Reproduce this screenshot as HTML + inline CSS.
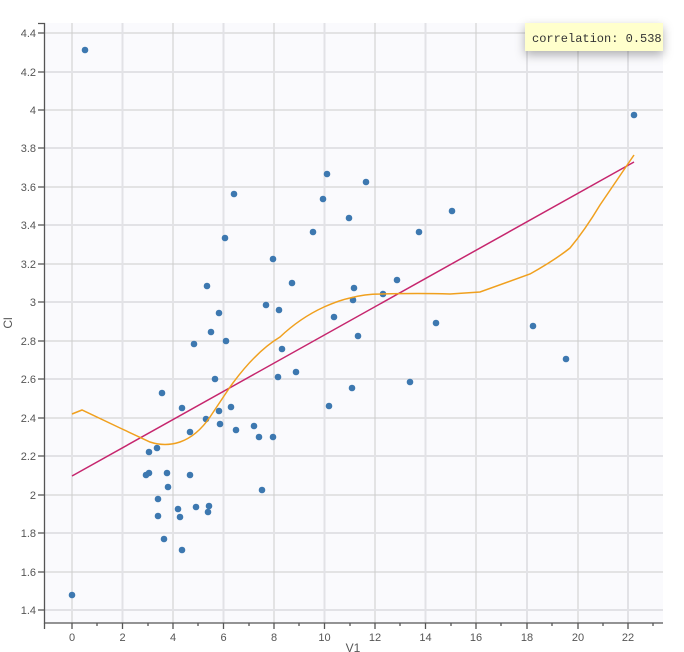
<!DOCTYPE html><html><head><style>body{margin:0;background:#fff;}svg{display:block}text{font-family:"Liberation Sans",sans-serif;font-size:11px;fill:#555}</style></head><body>
<svg width="684" height="652" xmlns="http://www.w3.org/2000/svg">
<rect x="44" y="23" width="619" height="600" fill="#fafafd"/>
<g stroke="#ccc" stroke-width="1">
<line x1="72" y1="23" x2="72" y2="623"/><line x1="173" y1="23" x2="173" y2="623"/><line x1="274" y1="23" x2="274" y2="623"/><line x1="375" y1="23" x2="375" y2="623"/><line x1="476" y1="23" x2="476" y2="623"/><line x1="578" y1="23" x2="578" y2="623"/>
<line x1="44" y1="33" x2="663" y2="33"/><line x1="44" y1="110" x2="663" y2="110"/><line x1="44" y1="187" x2="663" y2="187"/><line x1="44" y1="264" x2="663" y2="264"/><line x1="44" y1="341" x2="663" y2="341"/><line x1="44" y1="418" x2="663" y2="418"/><line x1="44" y1="495" x2="663" y2="495"/><line x1="44" y1="572" x2="663" y2="572"/>
</g>
<g stroke="#e2e2e6" stroke-width="2">
<line x1="122.5" y1="23" x2="122.5" y2="623"/><line x1="223.5" y1="23" x2="223.5" y2="623"/><line x1="324.5" y1="23" x2="324.5" y2="623"/><line x1="425.5" y1="23" x2="425.5" y2="623"/><line x1="527" y1="23" x2="527" y2="623"/><line x1="628" y1="23" x2="628" y2="623"/>
<line x1="44" y1="72" x2="663" y2="72"/><line x1="44" y1="148" x2="663" y2="148"/><line x1="44" y1="225" x2="663" y2="225"/><line x1="44" y1="302" x2="663" y2="302"/><line x1="44" y1="379" x2="663" y2="379"/><line x1="44" y1="456" x2="663" y2="456"/><line x1="44" y1="533" x2="663" y2="533"/><line x1="44" y1="610" x2="663" y2="610"/>
</g>
<g stroke="#555" stroke-width="1.3" fill="none">
<path d="M38 23.5H44.5V623H663"/>
<path d="M38 33H44M38 72H44M38 110H44M38 148H44M38 187H44M38 225H44M38 264H44M38 302H44M38 341H44M38 379H44M38 418H44M38 456H44M38 495H44M38 533H44M38 572H44M38 610H44"/>
<path d="M44.5 623v6M72 623v6M122.5 623v6M173 623v6M223.5 623v6M274 623v6M324.5 623v6M375 623v6M425.5 623v6M476 623v6M527 623v6M578 623v6M628 623v6M97 623v3M148 623v3M198 623v3M249 623v3M299 623v3M350 623v3M400 623v3M451 623v3M501 623v3M552 623v3M603 623v3M653 623v3"/>
</g>
<g text-anchor="end">
<text x="36" y="37">4.4</text><text x="36" y="76">4.2</text><text x="36" y="114">4</text><text x="36" y="152">3.8</text><text x="36" y="191">3.6</text><text x="36" y="229">3.4</text><text x="36" y="268">3.2</text><text x="36" y="306">3</text><text x="36" y="345">2.8</text><text x="36" y="383">2.6</text><text x="36" y="422">2.4</text><text x="36" y="460">2.2</text><text x="36" y="499">2</text><text x="36" y="537">1.8</text><text x="36" y="576">1.6</text><text x="36" y="614">1.4</text>
</g>
<g text-anchor="middle">
<text x="72" y="641">0</text><text x="122.5" y="641">2</text><text x="173" y="641">4</text><text x="223.5" y="641">6</text><text x="274" y="641">8</text><text x="324.5" y="641">10</text><text x="375" y="641">12</text><text x="425.5" y="641">14</text><text x="476" y="641">16</text><text x="527" y="641">18</text><text x="578" y="641">20</text><text x="628" y="641">22</text>
<text x="353" y="652" style="font-size:12px">V1</text>
<text x="12" y="323" style="font-size:12px" transform="rotate(-90 12 323)">Cl</text>
</g>
<g fill="#3d78b0">
<circle cx="85" cy="50" r="3.3"/><circle cx="72" cy="595" r="3.3"/><circle cx="634" cy="115" r="3.3"/><circle cx="327" cy="174" r="3.3"/><circle cx="366" cy="182" r="3.3"/><circle cx="234" cy="194" r="3.3"/><circle cx="323" cy="199" r="3.3"/><circle cx="349" cy="218" r="3.3"/><circle cx="452" cy="211" r="3.3"/><circle cx="313" cy="232" r="3.3"/><circle cx="419" cy="232" r="3.3"/><circle cx="225" cy="238" r="3.3"/>
<circle cx="273" cy="259" r="3.3"/><circle cx="207" cy="286" r="3.3"/><circle cx="292" cy="283" r="3.3"/><circle cx="354" cy="288" r="3.3"/><circle cx="353" cy="300" r="3.3"/><circle cx="383" cy="294" r="3.3"/><circle cx="397" cy="280" r="3.3"/><circle cx="266" cy="305" r="3.3"/><circle cx="279" cy="310" r="3.3"/><circle cx="219" cy="313" r="3.3"/><circle cx="334" cy="317" r="3.3"/><circle cx="211" cy="332" r="3.3"/><circle cx="358" cy="336" r="3.3"/><circle cx="226" cy="341" r="3.3"/><circle cx="194" cy="344" r="3.3"/><circle cx="282" cy="349" r="3.3"/><circle cx="436" cy="323" r="3.3"/><circle cx="533" cy="326" r="3.3"/><circle cx="566" cy="359" r="3.3"/>
<circle cx="278" cy="377" r="3.3"/><circle cx="296" cy="372" r="3.3"/><circle cx="215" cy="379" r="3.3"/><circle cx="410" cy="382" r="3.3"/><circle cx="352" cy="388" r="3.3"/><circle cx="162" cy="393" r="3.3"/><circle cx="329" cy="406" r="3.3"/><circle cx="182" cy="408" r="3.3"/><circle cx="219" cy="411" r="3.3"/><circle cx="231" cy="407" r="3.3"/><circle cx="206" cy="419" r="3.3"/><circle cx="220" cy="424" r="3.3"/><circle cx="190" cy="432" r="3.3"/><circle cx="236" cy="430" r="3.3"/><circle cx="254" cy="426" r="3.3"/><circle cx="259" cy="437" r="3.3"/><circle cx="273" cy="437" r="3.3"/>
<circle cx="149" cy="452" r="3.3"/><circle cx="157" cy="448" r="3.3"/><circle cx="149" cy="473" r="3.3"/><circle cx="146" cy="475" r="3.3"/><circle cx="167" cy="473" r="3.3"/><circle cx="190" cy="475" r="3.3"/><circle cx="168" cy="487" r="3.3"/><circle cx="262" cy="490" r="3.3"/><circle cx="158" cy="499" r="3.3"/><circle cx="178" cy="509" r="3.3"/><circle cx="196" cy="507" r="3.3"/><circle cx="209" cy="506" r="3.3"/><circle cx="208" cy="512" r="3.3"/><circle cx="158" cy="516" r="3.3"/><circle cx="180" cy="517" r="3.3"/><circle cx="164" cy="539" r="3.3"/><circle cx="182" cy="550" r="3.3"/>
</g>
<line x1="72" y1="476" x2="634" y2="162" stroke="#c6266e" stroke-width="1.5"/>
<path d="M72 414 L82 410 L120 428 L150 442 Q165 447 180 442 Q197 436 210 417 Q220 402 230 387 Q255 352 280 337 Q300 318 324 307 Q340 300 350 298 Q365 294 380 294 Q420 293 450 294 L480 292 L530 274 Q555 260 570 248 Q585 230 600 205 L634 155" fill="none" stroke="#f0a01e" stroke-width="1.5"/>
<rect x="525" y="23" width="138" height="28" fill="#ffffcc" style="filter:drop-shadow(0 4px 5px rgba(0,0,0,.3))"/>
<text x="532" y="42" style="font-family:'Liberation Mono',monospace;font-size:12px;fill:#333">correlation: 0.538</text>
</svg>
</body></html>
